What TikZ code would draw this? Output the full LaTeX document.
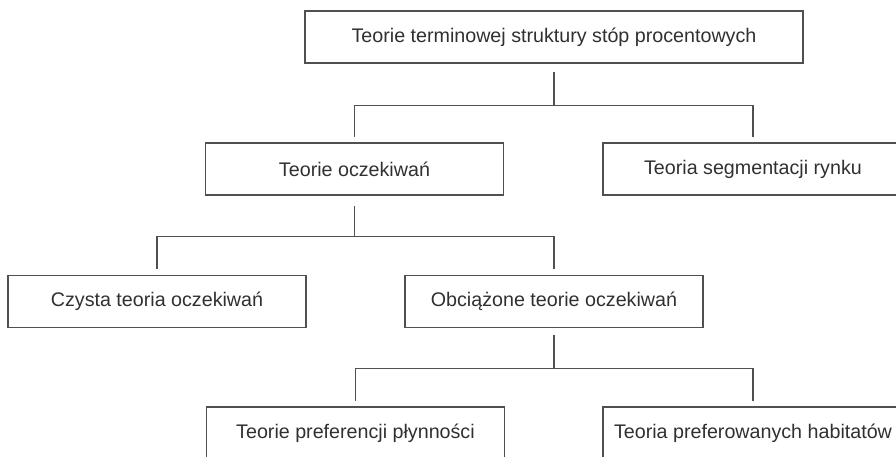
\documentclass[tikz,border=0pt]{standalone}
\usepackage{fontspec}
\setmainfont{Liberation Sans}
\usetikzlibrary{positioning}
\definecolor{framec}{HTML}{505050}
\definecolor{textc}{HTML}{303030}
\tikzset{
  box/.style={draw=framec, line width=1pt, text=textc, minimum width=7.45cm,
    minimum height=1.3cm, inner sep=0pt, font=\fontsize{14}{16}\selectfont},
  link/.style={draw=framec, line width=1pt},
}
\begin{document}
\begin{tikzpicture}[x=0.025cm, y=-0.025cm]
    \useasboundingbox (0,0) rectangle (896,456);
    \clip (0,0) rectangle (896,456);

    \node[box, minimum width=12.45cm] (top) at (554,37) {Teorie terminowej struktury stóp procentowych};
    \node[box] (oczek) at (354.5,169) {Teorie oczekiwań};
    \node[box, minimum width=7.5cm] (segm) at (753,169) {Teoria segmentacji rynku};
    \node[box] (czysta) at (157,301.5) {Czysta teoria oczekiwań};
    \node[box] (obciaz) at (554,301.5) {Obciążone teorie oczekiwań};
    \node[box] (plyn) at (355.5,433) {Teorie preferencji płynności};
    \node[box, minimum width=7.5cm] (habitat) at (753,433) {Teoria preferowanych habitatów};

    \draw[link, shorten <=6pt] (top.south) -- ++(0,42) coordinate (j1);
    \draw[link, shorten >=4pt] (j1) -| (oczek.north);
    \draw[link, shorten >=4pt] (j1) -| (segm.north);

    \draw[link, shorten <=7pt] (oczek.south) -- ++(0,41) coordinate (j2);
    \draw[link, shorten >=4pt] (j2) -| (czysta.north);
    \draw[link, shorten >=4pt] (j2) -| (obciaz.north);

    \draw[link, shorten <=5pt] (obciaz.south) -- ++(0,40) coordinate (j3);
    \draw[link, shorten >=4pt] (j3) -| (plyn.north);
    \draw[link, shorten >=4pt] (j3) -| (habitat.north);
\end{tikzpicture}
\end{document}
